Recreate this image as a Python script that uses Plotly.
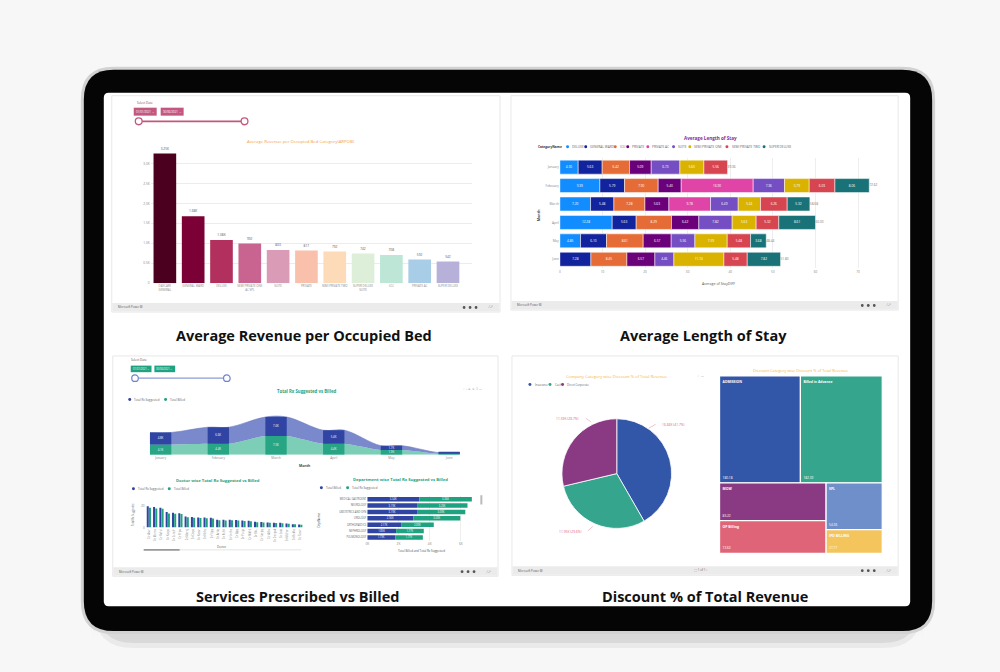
import plotly.graph_objects as go

W, H = 1000, 672


def X(px):
    return px / W


def Y(py):
    return 1 - py / H


# ----------------------------- data -----------------------------
bed_categories = ["DAYCARE<br>GENERAL", "GENERAL WARD", "DELUXE", "SEMI PRIVATE ONE<br>AC SPL", "SUITE",
                  "PRIVATE", "SEMI PRIVATE TWO", "SUPER DELUXE<br>SUITE", "ICU", "PRIVATE AC", "SUPER DELUXE"]
bed_revenue = [3250, 1675, 1083, 992, 833, 817, 792, 742, 708, 592, 542]
bed_colors = ["#4b0020", "#7b0036", "#b2305e", "#c8648f", "#d99bb6", "#f9c1ab",
              "#fddab8", "#ddefd8", "#bde6d6", "#a8cde6", "#b7b1da"]
bed_tickvals = [0, 500, 1000, 1500, 2000, 2500, 3000]
bed_ticktext = ["0", "0.5K", "1.0K", "1.5K", "2.0K", "2.5K", "3.0K"]
slicer_dates = ["01/01/2021", "30/06/2021"]

los_months = ["January", "February", "March", "April", "May", "June"]
los_categories = ["DELUXE", "GENERAL WARD", "ICU", "PRIVATE", "PRIVATE AC", "SUITE",
                  "SEMI PRIVATE ONE", "SEMI PRIVATE TWO", "SUPER DELUXE"]
los_colors = ["#118DFF", "#12239E", "#E66C37", "#6B007B", "#E044A7", "#744EC2",
              "#D9B300", "#D64550", "#197278"]
los_deluxe = [4.30, 9.39, 7.20, 12.28, 4.85, None]
los_general_ward = [5.63, 5.79, 5.48, 5.63, 6.10, 7.28]
los_icu = [6.42, 7.90, 7.28, 8.29, 8.61, 8.45]
los_private = [5.09, 5.40, 5.63, 6.42, 6.57, 6.57]
los_private_ac = [None, 16.90, 9.78, None, None, None]
los_suite = [6.73, 7.36, 6.49, 7.82, 5.56, 4.46]
los_semi_one = [5.63, 5.79, 5.24, 5.63, 7.59, 11.74]
los_semi_two = [5.56, 6.03, 6.26, 5.32, 5.48, 5.48]
los_super_deluxe = [None, 8.06, 5.32, 8.61, 3.68, 7.82]
los_tickvals = [0, 10, 20, 30, 40, 50, 60, 70]

rx_months = ["January", "February", "March", "April", "May", "June"]
rx_billed = [4.1, 4.4, 7.5, 4.4, 1.9, 0.4]
rx_suggested = [4.8, 6.6, 7.6, 5.4, 1.7, 0.4]

doctors = ["Dr Arun", "Dr Meena", "Dr Rahul", "Dr Kavya", "Dr Suresh", "Dr Priya", "Dr Manoj", "Dr Divya",
           "Dr Karan", "Dr Neha", "Dr Vijay", "Dr Anita", "Dr Rohit", "Dr Sneha", "Dr Ajay", "Dr Pooja",
           "Dr Nikhil", "Dr Ritu", "Dr Sanjay", "Dr Asha", "Dr Deepak", "Dr Lata", "Dr Mohan", "Dr Rekha",
           "Dr Tarun"]
doc_suggested = [20.0, 19.1, 18.4, 14.4, 13.8, 13.4, 10.3, 9.7, 9.4, 9.4, 9.1, 7.2, 7.2, 7.2, 6.9, 6.6,
                 6.3, 5.3, 5.0, 4.7, 4.4, 4.4, 3.8, 3.1, 2.8]
doc_billed = [18.6, 17.9, 17.5, 13.2, 12.9, 12.6, 9.6, 9.1, 8.8, 8.7, 8.5, 6.7, 6.6, 6.8, 6.4, 6.1,
              5.9, 4.9, 4.7, 4.3, 4.1, 4.0, 3.5, 2.9, 2.5]

departments = ["MEDICAL GASTROENT", "NEUROLOGY", "OBSTETRICS AND GYN", "UROLOGY", "ORTHOPAEDICS",
               "NEPHROLOGY", "PULMONOLOGY"]
dept_billed = [3.34, 3.19, 3.19, 2.96, 2.17, 1.85, 1.79]
dept_suggested = [3.36, 3.23, 3.09, 3.00, 2.09, 1.77, 1.77]
dept_tickvals = [0, 2, 4, 6]
dept_ticktext = ["0K", "2K", "4K", "6K"]

company_categories = ["Insurance", "Cash", "Direct Corporate"]
company_discount = [16.84, 11.95, 11.59]
company_colors = ["#3256a8", "#35a58d", "#8a3a82"]

disc_labels = ["ADMISSION", "Billed in Advance", "MOW", "OP Billing", "SPL", "IPD BILLING"]
disc_values = [180.18, 182.39, 83.22, 72.63, 54.36, 27.77]
disc_colors = ["#3256a8", "#35a58d", "#8a3a82", "#df6477", "#6f8fca", "#f4c55c"]
disc_block = ["top", "top", "left", "left", "right", "right"]   # tiling groups

# ----------------------------- colours -----------------------------
NAVY = "#2f44a3"
TEAL = "#1fa27f"
NAVY_RIB = "#7a88cc"
TEAL_RIB = "#7ccfb6"
PINK = "#c4577f"

fig = go.Figure()
shapes = []
ann = []


def rrect(x0, y0, x1, y1, r, fill, line=None, lw=0, layer="below"):
    p = (f"M {X(x0 + r)},{Y(y0)} L {X(x1 - r)},{Y(y0)} Q {X(x1)},{Y(y0)} {X(x1)},{Y(y0 + r)} "
         f"L {X(x1)},{Y(y1 - r)} Q {X(x1)},{Y(y1)} {X(x1 - r)},{Y(y1)} "
         f"L {X(x0 + r)},{Y(y1)} Q {X(x0)},{Y(y1)} {X(x0)},{Y(y1 - r)} "
         f"L {X(x0)},{Y(y0 + r)} Q {X(x0)},{Y(y0)} {X(x0 + r)},{Y(y0)} Z")
    shapes.append(dict(type="path", path=p, xref="paper", yref="paper", fillcolor=fill,
                       line=dict(color=line or fill, width=lw), layer=layer))


def rect(x0, y0, x1, y1, fill, line=None, lw=0, layer="below"):
    shapes.append(dict(type="rect", xref="paper", yref="paper", x0=X(x0), x1=X(x1), y0=Y(y1), y1=Y(y0),
                       fillcolor=fill, line=dict(color=line or fill, width=lw), layer=layer))


def circ(cx, cy, r, fill, line=None, lw=0, layer="above"):
    shapes.append(dict(type="circle", xref="paper", yref="paper", x0=X(cx - r), x1=X(cx + r),
                       y0=Y(cy + r), y1=Y(cy - r), fillcolor=fill,
                       line=dict(color=line or fill, width=lw), layer=layer))


def seg(x0, y0, x1, y1, color, lw=1, layer="above"):
    shapes.append(dict(type="line", xref="paper", yref="paper", x0=X(x0), x1=X(x1), y0=Y(y0), y1=Y(y1),
                       line=dict(color=color, width=lw), layer=layer))


def txt(x, y, s, size, color="#444", bold=False, xanchor="center", angle=0, family="Open Sans"):
    ann.append(dict(x=X(x), y=Y(y), xref="paper", yref="paper", text=f"<b>{s}</b>" if bold else s,
                    showarrow=False, xanchor=xanchor, yanchor="middle", textangle=angle,
                    font=dict(size=size, color=color, family=family)))


def legend(items, colors, x, y, size=3.2, cw=None, color="#666", gap=4.5):
    cw = cw or size * 0.58
    for lab, col in zip(items, colors):
        circ(x, y, 1.5, col)
        txt(x + 2.6, y, lab, size, color, xanchor="left")
        x += 2.6 + len(lab) * cw + gap


# ----------------------------- device frame -----------------------------
rrect(92, 600, 922, 650, 40, "rgba(0,0,0,0.05)")
rrect(96, 604, 918, 645, 36, "rgba(0,0,0,0.07)")
rrect(79, 67, 935, 636, 33, "#d2d2d2")
rrect(82, 70, 932, 633, 30, "#050505")
rrect(102, 93, 910, 608, 5, "#ffffff")

panels = [(110, 96, 499, 313), (510, 96, 898, 311), (111, 357, 497, 578), (511, 357, 898, 577)]
for (x0, y0, x1, y1) in panels:
    rect(x0, y0, x1, y1, "#ffffff", "#e2e2e2", 0.8)
    rect(x0 + 0.5, y1 - 9, x1 - 0.5, y1 - 0.5, "#ebebeb")
    txt(x0 + 4, y1 - 4.6, "Microsoft Power BI", 2.8, "#555", xanchor="left")
    for k in range(3):
        circ(x1 - 36 + k * 6, y1 - 4.6, 1.4, "#555", layer="below")
    txt(x1 - 14, y1 - 4.6, "⁄ ⤢", 3.2, "#777", xanchor="left")
txt(700, 572, "⬚ 1 of 1 ›", 3, "#666")

# main titles
for (cx, cy, s) in [(303, 336, "Average Revenue per Occupied Bed"), (703, 336, "Average Length of Stay"),
                    (296, 598, "Services Prescribed vs Billed"), (704, 598, "Discount % of Total Revenue")]:
    txt(cx, cy, s, 14.5, "#111111", bold=True)

# ----------------------------- TL : ARPOB bars -----------------------------
txt(133, 103, "Select Date", 3, "#8a3b5c", xanchor="left")
for i, d in enumerate(slicer_dates):
    bx = 132 + i * 27
    rect(bx, 108, bx + 23, 116, PINK, layer="above")
    txt(bx + 11.5, 112, d + " ⌄", 2.8, "#ffffff")
seg(137, 121.7, 243, 121.7, PINK, 1.6)
for cx in (137, 243):
    circ(cx, 121.7, 3.4, "#ffffff", PINK, 1.3)

txt(300, 141, "Average Revenue per Occupied Bed Category(ARPOB)", 4.3, "#f39c45")


def klabel(v):
    return f"{v / 1000:.2f}K" if v >= 1000 else f"{v:.0f}"


fig.add_trace(go.Bar(x=bed_categories, y=bed_revenue, width=0.8, marker=dict(color=bed_colors, line=dict(width=0)),
                     text=[klabel(v) for v in bed_revenue], textposition="outside", cliponaxis=False,
                     textfont=dict(size=3.2, color="#555"), xaxis="x", yaxis="y", showlegend=False,
                     hoverinfo="skip"))

# ----------------------------- TR : length of stay -----------------------------
txt(710, 138, "Average Length of Stay", 4.6, "#7b2d9b", bold=True)
txt(535, 147.3, "CategoryName", 3.2, "#333", bold=True, xanchor="left")
legend(los_categories, los_colors, 566.7, 147.3, size=3.2, cw=1.9, gap=4.2)

los_series = [los_deluxe, los_general_ward, los_icu, los_private, los_private_ac, los_suite,
              los_semi_one, los_semi_two, los_super_deluxe]
cum = [0.0] * len(los_months)
for name, vals, color in zip(los_categories, los_series, los_colors):
    bases = []
    for i, v in enumerate(vals):
        bases.append(cum[i])
        if v:
            cum[i] += v
    fig.add_trace(go.Bar(orientation="h", y=los_months, x=vals, base=bases, width=0.76, offset=-0.38,
                         marker=dict(color=color, line=dict(color="#ffffff", width=0.5)),
                         text=[f"{v:.2f}" if v else "" for v in vals], textposition="inside",
                         insidetextanchor="middle", textangle=0,
                         textfont=dict(size=3.2, color="#ffffff"), xaxis="x2", yaxis="y2",
                         showlegend=False, hoverinfo="skip", name=name))
fig.add_trace(go.Scatter(x=cum, y=los_months, mode="text", text=[f"{t:.2f}" for t in cum],
                         textposition="middle right", textfont=dict(size=3.2, color="#777"),
                         xaxis="x2", yaxis="y2", showlegend=False, hoverinfo="skip", cliponaxis=False))
txt(718, 284, "Average of StayDIFF", 3.6, "#555")
txt(537, 215, "Month", 3.6, "#444", bold=True, angle=-90)

# ----------------------------- BL : services -----------------------------
txt(127, 361, "Select Date", 3, "#555", xanchor="left")
for i, d in enumerate(slicer_dates):
    bx = 129 + i * 23.7
    rect(bx, 366.7, bx + 20.8, 373.3, TEAL, layer="above")
    txt(bx + 10.4, 370, d + " ⌄", 2.6, "#ffffff")
seg(133.3, 379.3, 225.3, 379.3, "#8d9bd6", 1.3)
for cx in (133.3, 225.3):
    circ(cx, 379.3, 3.3, "#ffffff", "#6f84cc", 1.2)

txt(305, 391.7, "Total Rx Suggested vs Billed", 4.3, TEAL, bold=True)
txt(483, 390, "↑ ↓ ⇊ ⇅  ⊽ ⋯", 3.2, "#aaaaaa", xanchor="right")
legend(["Total Rx Suggested", "Total Billed"], [NAVY, TEAL], 128, 400.7, size=2.9, cw=1.6)

w = 0.185
rib_x, rib_billed, rib_top = [], [], []
for i in range(len(rx_months)):
    for dx in (-w, w):
        rib_x.append(i + dx)
        rib_billed.append(rx_billed[i])
        rib_top.append(rx_billed[i] + rx_suggested[i])
fig.add_trace(go.Scatter(x=rib_x, y=rib_billed, mode="lines", fill="tozeroy", fillcolor=TEAL_RIB,
                         line=dict(shape="spline", smoothing=1.0, width=0, color=TEAL_RIB),
                         xaxis="x3", yaxis="y3", showlegend=False, hoverinfo="skip"))
fig.add_trace(go.Scatter(x=rib_x, y=rib_top, mode="lines", fill="tonexty", fillcolor=NAVY_RIB,
                         line=dict(shape="spline", smoothing=1.0, width=0.6, color="#6b7ac2"),
                         xaxis="x3", yaxis="y3", showlegend=False, hoverinfo="skip"))
idx = list(range(len(rx_months)))
fig.add_trace(go.Bar(x=idx, y=rx_billed, base=[0] * len(idx), width=2 * w, offset=-w,
                     marker=dict(color="#27a584", line=dict(width=0)),
                     text=[f"{v:.1f}K" if v > 1 else "" for v in rx_billed], textposition="inside",
                     insidetextanchor="middle", textangle=0, textfont=dict(size=2.8, color="#ffffff"),
                     xaxis="x6", yaxis="y6", showlegend=False, hoverinfo="skip"))
fig.add_trace(go.Bar(x=idx, y=rx_suggested, base=rx_billed, width=2 * w, offset=-w,
                     marker=dict(color=NAVY, line=dict(width=0)),
                     text=[f"{v:.1f}K" if v > 1 else "" for v in rx_suggested], textposition="inside",
                     insidetextanchor="middle", textangle=0, textfont=dict(size=2.8, color="#ffffff"),
                     xaxis="x6", yaxis="y6", showlegend=False, hoverinfo="skip"))
txt(303, 467, "Month", 3.4, "#444", bold=True)

# doctor chart
txt(216.7, 482, "Doctor wise Total Rx Suggested vs Billed", 4.2, TEAL, bold=True)
legend(["Total Rx Suggested", "Total Billed"], [NAVY, TEAL], 131.7, 490.3, size=2.9, cw=1.6)
fig.add_trace(go.Bar(x=doctors, y=doc_suggested, marker=dict(color=NAVY, line=dict(width=0)),
                     xaxis="x4", yaxis="y4", showlegend=False, hoverinfo="skip"))
fig.add_trace(go.Bar(x=doctors, y=doc_billed, marker=dict(color=TEAL, line=dict(width=0)),
                     xaxis="x4", yaxis="y4", showlegend=False, hoverinfo="skip"))
txt(132, 516, "Total Rx Suggested", 2.6, "#555", angle=-90)
txt(220, 548.3, "Doctor", 2.9, "#555")
seg(142, 551.5, 300, 551.5, "#dddddd", 0.8)
seg(142, 551.5, 178, 551.5, "#9a9a9a", 1.6)

# department chart
txt(399, 481.3, "Department wise Total Rx Suggested vs Billed", 4.2, TEAL, bold=True)
legend(["Total Billed", "Total Rx Suggested"], [NAVY, TEAL], 320, 489.3, size=2.9, cw=1.6)
fig.add_trace(go.Bar(orientation="h", y=departments, x=dept_billed, base=[0] * len(departments),
                     width=0.7, offset=-0.35, marker=dict(color=NAVY, line=dict(width=0)),
                     text=[f"{v:.2f}K" for v in dept_billed], textposition="inside", insidetextanchor="middle",
                     textangle=0, textfont=dict(size=2.6, color="#ffffff"),
                     xaxis="x5", yaxis="y5", showlegend=False, hoverinfo="skip"))
fig.add_trace(go.Bar(orientation="h", y=departments, x=dept_suggested, base=dept_billed,
                     width=0.7, offset=-0.35, marker=dict(color=TEAL, line=dict(width=0)),
                     text=[f"{v:.2f}K" for v in dept_suggested], textposition="inside", insidetextanchor="middle",
                     textangle=0, textfont=dict(size=2.6, color="#ffffff"),
                     xaxis="x5", yaxis="y5", showlegend=False, hoverinfo="skip"))
txt(420, 552.7, "Total Billed and Total Rx Suggested", 2.9, "#555")
txt(318, 521.7, "DeptName", 2.9, "#555", angle=-90)
rect(479.3, 496.7, 481.3, 506, "#bbbbbb", layer="above")

# ----------------------------- BR : discount -----------------------------
txt(616, 377.7, "Company Category wise Discount % of Total Revenue", 4.1, "#f5b548")
txt(700, 377.5, "⊤ ⋯", 3.2, "#aaaaaa")
legend(company_categories, company_colors, 529, 385.7, size=2.8, cw=1.5, gap=4)
fig.add_trace(go.Pie(labels=company_categories, values=company_discount, sort=False, direction="clockwise",
                     rotation=0, marker=dict(colors=company_colors, line=dict(color="#ffffff", width=0.8)),
                     textinfo="none", domain=dict(x=[X(561), X(671)], y=[Y(530), Y(420)]),
                     showlegend=False, hoverinfo="skip"))
tot = sum(company_discount)
pie_labels = [f"{v:.2f}K ({v / tot * 100:.1f}%)" for v in company_discount]
label_pos = [(673, 425.7, 648, 429.5, 655, 425.5), (570, 532.7, 592, 528, 587, 532.5),
             (567, 419.3, 590, 423, 585, 419.5)]
for s, (lx, ly, ax0, ay0, ax1, ay1) in zip(pie_labels, label_pos):
    txt(lx, ly, s, 3.3, "#e0607a")
    seg(ax0, ay0, ax1, ay1, "#e8a0b0", 0.6)

txt(800, 371.7, "Discount Category wise Discount % of Total Revenue", 3.9, "#f5b548")

# treemap hierarchy (layout groups only)
ids = ["root", "top", "bottom", "left", "right"] + disc_labels
parents = ["", "root", "root", "bottom", "bottom"] + disc_block
vals = [0, 0, 0, 0, 0] + disc_values
cols = ["#ffffff"] * 5 + disc_colors
lab = [""] * 5 + disc_labels
tm_common = dict(ids=ids, parents=parents, values=vals, labels=lab, sort=False, branchvalues="remainder",
                 tiling=dict(packing="dice-slice", pad=0), pathbar=dict(visible=False),
                 domain=dict(x=[X(719), X(882)], y=[Y(555), Y(377)]), hoverinfo="skip")
fig.add_trace(go.Treemap(**tm_common,
                         marker=dict(colors=cols, line=dict(color="#ffffff", width=1.2),
                                     pad=dict(t=0, l=0, r=0, b=0)),
                         texttemplate=[""] * 5 + ["<b>%{label}</b>"] * len(disc_labels),
                         textposition="top left", textfont=dict(size=3.4, color="#ffffff")))
fig.add_trace(go.Treemap(**tm_common,
                         marker=dict(colors=["rgba(0,0,0,0)"] * len(ids), line=dict(width=0),
                                     pad=dict(t=0, l=0, r=0, b=0)),
                         texttemplate=[""] * 5 + ["%{value:.2f}"] * len(disc_labels),
                         textposition="bottom left", textfont=dict(size=3.2, color="#ffffff")))

# ----------------------------- layout -----------------------------
tick = dict(size=3.2, color="#888888")
fig.update_layout(
    width=W, height=H, autosize=False, margin=dict(l=0, r=0, t=0, b=0),
    paper_bgcolor="#f7f7f7", plot_bgcolor="rgba(0,0,0,0)",
    font=dict(family="Open Sans"), barmode="group", bargap=0.3, bargroupgap=0.08,
    showlegend=False, shapes=shapes, annotations=ann,
    xaxis=dict(domain=[X(149), X(471)], range=[-0.5, 10.85], anchor="y", tickfont=dict(size=2.9, color="#888"),
               showgrid=False, zeroline=False, showline=False, ticks="", fixedrange=True),
    yaxis=dict(domain=[Y(284), Y(146)], range=[0, 3450], anchor="x", tickvals=bed_tickvals, ticktext=bed_ticktext,
               tickfont=tick, gridcolor="#ececec", gridwidth=0.6, zeroline=False, showline=False),
    xaxis2=dict(domain=[X(559), X(880)], range=[0, 75.2], anchor="y2", tickvals=los_tickvals, tickfont=tick,
                gridcolor="#eeeeee", gridwidth=0.6, zeroline=False, showline=False),
    yaxis2=dict(domain=[Y(269.3), Y(158.4)], range=[5.5, -0.5], anchor="x2", type="category", tickfont=tick,
                showgrid=False, zeroline=False, showline=False),
    xaxis3=dict(domain=[X(144.5), X(462.5)], range=[-0.25, 5.25], anchor="y3", tickvals=idx, ticktext=rx_months,
                tickfont=tick, showgrid=False, zeroline=False, showline=False),
    yaxis3=dict(domain=[Y(456), Y(416)], range=[0, 16], anchor="x3", visible=False),
    xaxis6=dict(overlaying="x3", range=[-0.25, 5.25], anchor="y6", visible=False),
    yaxis6=dict(overlaying="y3", range=[0, 16], anchor="x6", visible=False),
    xaxis4=dict(domain=[X(144), X(302)], anchor="y4", type="category", tickangle=-90,
                tickfont=dict(size=2.6, color="#888"), showgrid=False, zeroline=False, showline=False),
    yaxis4=dict(domain=[Y(529), Y(503.4)], range=[0, 24], anchor="x4", tickvals=[0, 20], tickfont=tick,
                showgrid=False, zeroline=False, showline=False),
    xaxis5=dict(domain=[X(366), X(478)], range=[0, 7.16], anchor="y5", tickvals=dept_tickvals,
                ticktext=dept_ticktext, tickfont=tick, gridcolor="#eeeeee", gridwidth=0.6, zeroline=False,
                showline=False),
    yaxis5=dict(domain=[Y(542.2), Y(497.5)], range=[6.5, -0.5], anchor="x5", type="category",
                tickfont=dict(size=2.6, color="#666"), showgrid=False, zeroline=False, showline=False),
)

fig.write_html("out.html", post_script="document.body.style.margin='0';")
